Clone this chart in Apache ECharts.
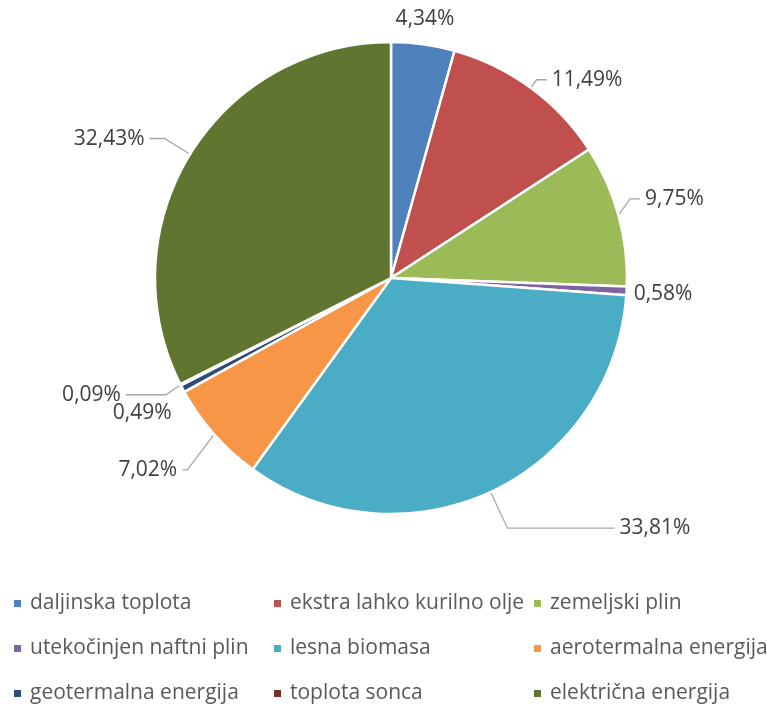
<!DOCTYPE html>
<html>
<head>
<meta charset="utf-8">
<script src="https://cdn.jsdelivr.net/npm/echarts@6/dist/echarts.min.js"></script>
<style>
  html, body { margin: 0; padding: 0; background: #fff; }
  #chart { width: 767px; height: 704px; }
</style>
</head>
<body>
<div id="chart"></div>
<script>
const names = [
    'daljinska toplota', 'ekstra lahko kurilno olje', 'zemeljski plin',
    'utekočinjen naftni plin', 'lesna biomasa', 'aerotermalna energija',
    'geotermalna energija', 'toplota sonca', 'električna energija'
];
const shares = [4.34, 11.49, 9.75, 0.58, 33.81, 7.02, 0.49, 0.09, 32.43];
const colors = ['#4F81BD', '#C0504D', '#9BBB59', '#8064A2', '#4BACC6', '#F79646', '#2C4D75', '#772C2A', '#5F7530'];

// leader line per slice: [show, length, length2]
const leaders = [
    [false, 4, 0], [true, 10, 10], [true, 12, 10], [false, 4, 0],
    [true, 40, 107], [true, 40, 5], [false, 18, 0], [true, 22, 40], [true, 30, 15]
];
// small nudges of label text: [dx, dy]
const nudges = [
    [-33, -21], [0, 0], [0, -13], [-2, 3],
    [0, 0], [3, 9], [10, 16], [5, 0], [0, 0]
];

const fontFam = '"Open Sans", "Noto Sans", sans-serif';

const data = shares.map((v, i) => ({
    name: names[i],
    value: v,
    itemStyle: { color: colors[i] },
    labelLine: { show: leaders[i][0], length: leaders[i][1], length2: leaders[i][2] }
}));

function legendCol(x, items) {
    return {
        orient: 'vertical',
        left: x,
        top: 593,
        height: 140,
        padding: 0,
        itemGap: 24,
        icon: 'rect',
        itemWidth: 9,
        itemHeight: 9,
        selectedMode: false,
        data: items,
        textStyle: { color: '#595959', fontSize: 21, lineHeight: 21, fontFamily: fontFam, padding: [0, 0, 0, 3] }
    };
}

const chart = echarts.init(document.getElementById('chart'));
chart.setOption({
    animation: false,
    color: colors,
    legend: [
        legendCol(12, [names[0], names[3], names[6]]),
        legendCol(272, [names[1], names[4], names[7]]),
        legendCol(532, [names[2], names[5], names[8]])
    ],
    series: [{
        type: 'pie',
        center: [391, 278],
        radius: 236,
        startAngle: 90,
        clockwise: true,
        avoidLabelOverlap: false,
        itemStyle: { borderColor: '#fff', borderWidth: 2.5 },
        label: {
            show: true,
            position: 'outside',
            color: '#404040',
            fontSize: 21,
            fontFamily: fontFam,
            formatter: p => p.value.toFixed(2).replace('.', ',') + '%'
        },
        labelLine: { lineStyle: { color: '#A6A6A6', width: 1.3 }, smooth: false },
        labelLayout: function (p) {
            const n = nudges[p.dataIndex];
            const out = { dx: n[0], dy: n[1] };
            if (p.labelLinePoints && (n[0] || n[1])) {
                out.labelLinePoints = p.labelLinePoints.map((pt, k) =>
                    k === 0 ? pt.slice() : [pt[0] + n[0], pt[1] + n[1]]);
            }
            return out;
        },
        emphasis: { disabled: true },
        data: data
    }]
});
</script>
</body>
</html>
